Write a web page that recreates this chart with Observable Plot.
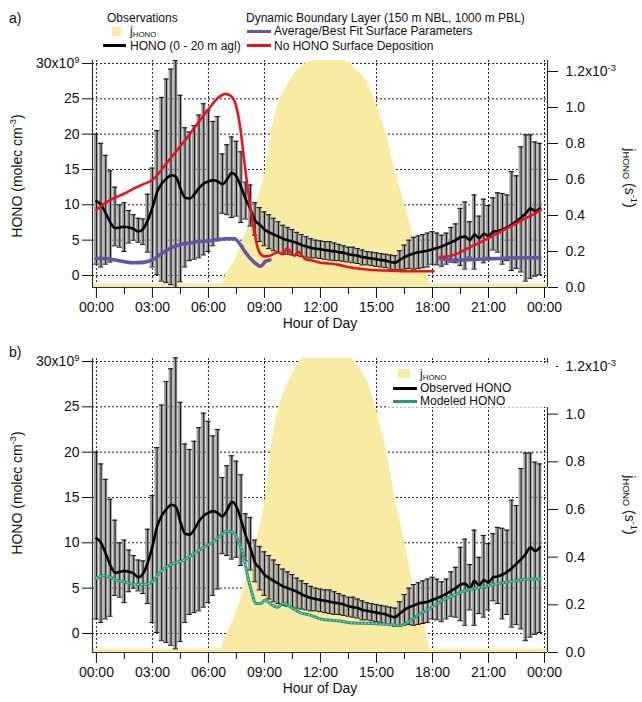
<!DOCTYPE html>
<html><head><meta charset="utf-8">
<script src="https://cdn.jsdelivr.net/npm/d3@7"></script>
<script src="https://cdn.jsdelivr.net/npm/@observablehq/plot@0.6"></script>
<style>
body{margin:0;background:#fff;font-family:"Liberation Sans",Arial,Helvetica,sans-serif;color:#111}
#wrap{position:relative;width:642px;height:702px;overflow:hidden}
.abs{position:absolute;white-space:nowrap;line-height:1}
.t12{font-size:12px}
.t14{font-size:14px}
.sw{position:absolute}
sub{font-size:0.66em;vertical-align:-0.2em;line-height:0}
sup{font-size:0.66em;vertical-align:0.6em;line-height:0}
.rot{position:absolute;white-space:nowrap;line-height:1;font-size:14px}
</style></head>
<body><div id="wrap"></div>
<script>
// ---------- data ----------
const times = d3.range(0, 24, 0.25); // 15-min bins
const honoMean = [10.5,10.0,8.8,7.5, 6.7,6.8,6.9,6.8, 6.6,6.2,6.6,7.8, 9.6,11.8,13.0,13.7,
  14.2,14.0,12.3,11.0, 10.9,11.5,12.4,13.0, 13.3,13.5,13.3,12.9, 13.6,14.5,14.0,12.5,
  10.8,9.4,7.8,7.2, 6.5,6.1,5.8,5.5, 5.2,5.0,4.8,4.6, 4.3,4.1,3.9,3.8,
  3.7,3.6,3.5,3.4, 3.3,3.2,3.0,2.9, 2.8,2.6,2.5,2.4, 2.3,2.2,2.1,1.9,
  1.8,2.2,2.6,2.9, 3.1,3.3,3.4,3.5, 3.7,3.9,4.1,4.4, 4.7,5.0,5.4,5.5,
  5.0,5.8,5.3,5.9, 5.6,6.2,6.3,6.5, 6.8,7.2,7.7,8.2, 8.8,9.5,9.1,9.5];
const honoHi = [20.0,18.7,17.0,14.8, 12.5,10.0,10.3,9.2, 8.6,8.1,8.0,11.5, 15.2,20.5,25.2,27.8,
  29.2,30.4,25.5,20.9, 20.3,21.2,22.7,24.3, 23.4,21.8,22.5,17.2, 18.5,19.6,19.0,17.5,
  13.2,12.8,10.3,9.6, 9.0,8.6,8.1,7.6, 7.1,6.8,6.5,6.1, 5.8,5.5,5.2,5.0,
  4.9,4.8,4.8,4.6, 4.4,4.2,4.0,4.0, 3.8,3.6,3.4,3.3, 3.2,3.1,3.0,2.9,
  2.8,3.5,4.3,5.0, 5.4,5.6,5.8,6.0, 6.2,6.0,5.7,6.0, 6.8,7.3,9.5,10.4,
  7.6,11.4,8.4,10.8, 9.9,11.0,11.7,11.6, 11.4,14.7,14.1,18.2, 19.9,19.9,18.9,18.7];
const honoLo = [1.6,1.2,1.6,1.9, 4.2,4.0,3.4,4.6, 5.0,4.7,4.4,3.3, 1.2,0.1,-0.8,-1.0,
  -1.3,-1.7,-0.9,1.2, 2.1,2.3,2.5,2.9, 3.4,4.2,4.9,8.8, 8.6,8.2,8.4,7.5,
  8.0,7.0,5.7,4.8, 4.2,3.8,3.5,3.3, 3.1,3.0,2.9,2.8, 2.7,2.6,2.5,2.5,
  2.4,2.3,2.2,2.1, 2.1,2.0,1.9,1.8, 1.7,1.5,1.5,1.4, 1.3,1.2,1.1,0.9,
  0.8,0.8,0.9,1.0, 0.9,1.0,1.1,1.2, 1.6,1.5,1.3,1.6, 1.9,1.8,1.4,0.9,
  2.6,0.9,2.2,1.8, 2.6,3.6,3.3,1.6, 2.1,0.7,1.0,0.5, -0.8,-0.4,-0.1,0.1];

const jTimes  = [0, 6.5, 7.0, 7.5, 8.0, 8.5, 9.0, 9.5, 10.0, 10.5, 11.0, 11.5, 12.0, 12.5, 13.0, 13.5, 14.0, 14.5, 15.0, 15.5, 16.0, 16.5, 17.0, 17.5, 18.0, 24];
const jValues = [0, 0, 0.08, 0.17, 0.30, 0.45, 0.62, 0.93, 1.08, 1.17, 1.23, 1.26, 1.28, 1.28, 1.27, 1.25, 1.20, 1.14, 1.02, 0.86, 0.65, 0.47, 0.28, 0.15, 0, 0]; // x1e-3 s-1

const redTimes  = [0, 0.5, 1.0, 1.5, 2.0, 2.5, 3.0, 3.5, 4.0, 4.5, 5.0, 5.5, 6.0, 6.5, 6.9, 7.2, 7.45, 7.7, 7.95, 8.2, 8.45, 8.7, 9.0, 9.3, 9.7, 10.0, 10.2, 10.6, 10.8, 11.2, 11.6, 12.0, 12.5, 13.0, 13.5, 14.0, 14.5, 15.0, 15.5, 16.0, 16.5, 17.0, 17.5, 18.05, 18.2, 18.4, 19.0, 19.5, 20.0, 20.5, 21.0, 21.5, 22.0, 22.5, 23.0, 23.5, 23.8];
const redValues = [9.3, 10.3, 11.0, 11.6, 12.3, 12.9, 13.5, 15.0, 16.7, 18.3, 20.0, 21.8, 23.5, 25.1, 25.7, 25.4, 24.3, 21.0, 15.5, 10.5, 6.3, 3.4, 2.7, 2.8, 3.3, 3.0, 3.8, 2.8, 3.3, 2.3, 2.1, 1.8, 1.7, 1.5, 1.2, 1.0, 0.85, 0.75, 0.7, 0.65, 0.6, 0.6, 0.6, 0.6, null, 2.6, 2.8, 3.3, 4.0, 4.6, 5.3, 6.0, 6.7, 7.4, 8.1, 8.8, 9.3];

const purpleTimes  = [0, 0.5, 1.0, 1.5, 2.0, 2.5, 3.0, 3.5, 4.0, 4.5, 5.0, 5.5, 6.0, 6.5, 7.0, 7.4, 7.7, 8.0, 8.4, 8.8, 9.05, 9.3, 9.4, 18.4, 19.0, 19.5, 20.5, 21.5, 22.5, 23.75];
const purpleValues = [2.4, 2.4, 2.2, 1.95, 1.8, 1.85, 2.2, 3.1, 3.9, 4.4, 4.6, 4.8, 4.9, 5.1, 5.2, 5.2, 4.4, 3.2, 2.0, 1.3, 2.0, 2.2, null, 2.4, 2.2, 2.2, 2.3, 2.4, 2.5, 2.5];

const greenTimes  = [0, 0.4, 0.75, 1.1, 1.5, 1.8, 2.2, 2.5, 2.8, 3.07, 3.34, 3.6, 4.1, 4.7, 5.2, 5.75, 6.3, 6.65, 7.0, 7.35, 7.6, 7.9, 8.07, 8.34, 8.52, 8.8, 9.05, 9.3, 9.7, 10.0, 10.4, 10.9, 11.5, 12.0, 12.9, 13.8, 14.7, 15.6, 16.3, 16.8, 17.35, 17.9, 18.4, 18.8, 19.7, 20.6, 21.5, 22.4, 23.3, 23.75];
const greenValues = [6.1, 6.4, 6.2, 5.85, 5.7, 5.5, 5.4, 5.4, 5.5, 5.85, 6.6, 7.1, 7.7, 8.1, 8.8, 9.5, 10.2, 10.8, 11.3, 11.1, 10.2, 8.4, 6.6, 4.4, 3.3, 3.3, 3.7, 3.3, 2.9, 3.3, 2.9, 2.3, 2.0, 1.6, 1.4, 1.15, 1.1, 1.0, 0.9, 1.4, 2.2, 2.8, 3.5, 3.9, 4.7, 5.1, 5.5, 5.8, 6.0, 6.0];

const hourTicks  = [0, 3, 6, 9, 12, 15, 18, 21, 24];
const minorTicks = [1.5, 4.5, 7.5, 10.5, 13.5, 16.5, 19.5, 22.5];
const honoTicks  = [0, 5, 10, 15, 20, 25, 30];
const jTicks     = [0, 0.2, 0.4, 0.6, 0.8, 1.0, 1.2];

// ---------- styles ----------
const YELLOW = "#f8eca4", RED = "#e8141c", PURPLE = "#6655a6", TEAL = "#24977c";
const FONT = '"Liberation Sans", Arial, Helvetica, sans-serif';

const obs = times.map((t, i) => ({t, m: honoMean[i], hi: honoHi[i], lo: honoLo[i]}));
const jRows = jTimes.map((t, i) => ({t, j: jValues[i]}));
const rows = (ts, vs) => ts.map((t, i) => ({t, v: vs[i]}));

function panel({yDomain, jScale, height, marginTop, marginBottom, models}) {
  const hj = j => yDomain[0] + j * jScale;
  const xDomain = [-0.21, 24.16];
  const svg = Plot.plot({
    width: 642, height, marginLeft: 92, marginRight: 95, marginTop, marginBottom,
    x: {domain: xDomain}, y: {domain: yDomain},
    style: {fontFamily: FONT, fontSize: "14px", color: "#111", background: "transparent", overflow: "visible"},
    marks: [
      Plot.ruleY(honoTicks, {y: d => d, stroke: "#222", strokeWidth: 1, strokeDasharray: "2,2"}),
      Plot.ruleX(hourTicks, {x: d => d, stroke: "#222", strokeWidth: 1, strokeDasharray: "2,2"}),
      Plot.areaY(jRows, {x: "t", y1: hj(0), y2: d => hj(d.j), fill: YELLOW, curve: "monotone-x", clip: true}),
      Plot.ruleY([yDomain[0]], {stroke: YELLOW, strokeWidth: 4, dy: -2}),
      Plot.rect(obs, {x1: d => d.t - 0.11, x2: d => d.t + 0.11, y1: "lo", y2: "hi", fill: "#a3a3a3"}),
      Plot.ruleX(obs, {x: "t", y1: "lo", y2: "hi", stroke: "#111", strokeWidth: 1}),
      Plot.ruleY(obs, {y: "hi", x1: d => d.t - 0.14, x2: d => d.t + 0.14, stroke: "#111", strokeWidth: 1}),
      Plot.ruleY(obs, {y: "lo", x1: d => d.t - 0.14, x2: d => d.t + 0.14, stroke: "#111", strokeWidth: 1}),
      Plot.line(obs, {x: "t", y: "m", stroke: "#000", strokeWidth: 2.6, curve: "monotone-x"}),
      ...models,
      Plot.ruleX(xDomain, {stroke: "#333", strokeWidth: 1.2}),
      Plot.ruleY([yDomain[0]], {stroke: "#333", strokeWidth: 1.2}),
      Plot.axisY({ticks: honoTicks, anchor: "left", tickSize: 10, tickPadding: 3, label: null,
        tickFormat: d => d === 30 ? "30x10" : String(d)}),
      Plot.axisY({ticks: jTicks.map(hj), anchor: "right", tickSize: 10, tickPadding: 8, label: null,
        tickFormat: v => { const j = (v - yDomain[0]) / jScale; return Math.abs(j - 1.2) < 1e-6 ? "1.2x10" : j.toFixed(1); }}),
      Plot.axisX({ticks: hourTicks, tickSize: 11, tickPadding: 4, label: null,
        tickFormat: h => String(h % 24).padStart(2, "0") + ":00"}),
      Plot.axisX({ticks: minorTicks, tickSize: 7, label: null, tickFormat: () => ""}),
      Plot.text(["Hour of Day"], {frameAnchor: "bottom", text: d => d, dy: 40, fontSize: 14})
    ]
  });
  // superscripts for the exponent tick labels
  d3.select(svg).selectAll("text").each(function() {
    const s = this.textContent;
    if (s === "30x10") d3.select(this).append("tspan").attr("dy", "-0.55em").attr("font-size", "9.5").text("9");
    if (s === "1.2x10") d3.select(this).append("tspan").attr("dy", "-0.55em").attr("font-size", "9.5").text("-3");
  });
  return svg;
}

const wrap = document.getElementById("wrap");

const svgA = panel({
  yDomain: [-1.70, 30.42], jScale: 25.47, height: 340, marginTop: 60, marginBottom: 53,
  models: [
    Plot.line(rows(purpleTimes, purpleValues), {x: "t", y: "v", stroke: PURPLE, strokeWidth: 3.6, curve: "monotone-x"}),
    Plot.line(rows(redTimes, redValues), {x: "t", y: "v", stroke: RED, strokeWidth: 2.6, curve: "monotone-x"})
  ]
});
const svgB = panel({
  yDomain: [-2.10, 30.33], jScale: 26.29, height: 362, marginTop: 18, marginBottom: 50,
  models: [
    Plot.line(rows(greenTimes, greenValues), {x: "t", y: "v", stroke: TEAL, strokeWidth: 3, curve: "monotone-x"}),
    Plot.line(rows(greenTimes, greenValues), {x: "t", y: "v", stroke: "#8fd3bb", strokeWidth: 1.1, strokeDasharray: "1.2,2.4", curve: "monotone-x"})
  ]
});

function place(el, top) {
  const d = document.createElement("div");
  d.style.cssText = `position:absolute;left:0;top:${top}px`;
  d.appendChild(el);
  wrap.appendChild(d);
}
place(svgA, 0);
place(svgB, 340);

function html(s) { wrap.insertAdjacentHTML("beforeend", s); }
const leftTitle = 'HONO (molec cm<sup>-3</sup>)';
const rightTitle = 'j<sub>HONO</sub> (s<sup>-1</sup>)';

// panel labels and axis titles
html(`<div class="abs t14" style="left:9px;top:11px">a)</div>`);
html(`<div class="abs t14" style="left:9px;top:345px">b)</div>`);
html(`<div class="rot" style="left:17px;top:176px;transform:translate(-50%,-50%) rotate(-90deg)">${leftTitle}</div>`);
html(`<div class="rot" style="left:17px;top:493px;transform:translate(-50%,-50%) rotate(-90deg)">${leftTitle}</div>`);
html(`<div class="rot" style="left:630px;top:178px;transform:translate(-50%,-50%) rotate(90deg)">${rightTitle}</div>`);
html(`<div class="rot" style="left:630px;top:505px;transform:translate(-50%,-50%) rotate(90deg)">${rightTitle}</div>`);

// panel a legend (above plot)
html(`<div class="abs t12" style="left:107px;top:12px">Observations</div>`);
html(`<div class="sw" style="left:112px;top:27px;width:9px;height:9px;background:${YELLOW}"></div>`);
html(`<div class="abs t12" style="left:130px;top:25px">j<sub>HONO</sub></div>`);
html(`<div class="sw" style="left:103px;top:43.5px;width:23px;height:3px;background:#000"></div>`);
html(`<div class="abs t12" style="left:130px;top:40px">HONO (0 - 20 m agl)</div>`);
html(`<div class="abs t12" style="left:246px;top:12px">Dynamic Boundary Layer (150 m NBL, 1000 m PBL)</div>`);
html(`<div class="sw" style="left:247px;top:29.5px;width:24px;height:3px;background:${PURPLE}"></div>`);
html(`<div class="abs t12" style="left:274px;top:25px">Average/Best Fit Surface Parameters</div>`);
html(`<div class="sw" style="left:247px;top:43.5px;width:24px;height:3px;background:${RED}"></div>`);
html(`<div class="abs t12" style="left:274px;top:40px">No HONO Surface Deposition</div>`);

// panel b legend (inside plot, white box)
html(`<div class="sw" style="left:388px;top:363px;width:168px;height:44px;background:#fff"></div>`);
html(`<div class="sw" style="left:398px;top:369px;width:12px;height:9px;background:${YELLOW}"></div>`);
html(`<div class="abs t12" style="left:420px;top:368px">j<sub>HONO</sub></div>`);
html(`<div class="sw" style="left:393px;top:386.5px;width:24px;height:3px;background:#000"></div>`);
html(`<div class="abs t12" style="left:420px;top:382px">Observed HONO</div>`);
html(`<div class="sw" style="left:393px;top:399.5px;width:24px;height:3px;background:${TEAL}"></div>`);
html(`<div class="abs t12" style="left:420px;top:395px">Modeled HONO</div>`);
</script></body></html>
